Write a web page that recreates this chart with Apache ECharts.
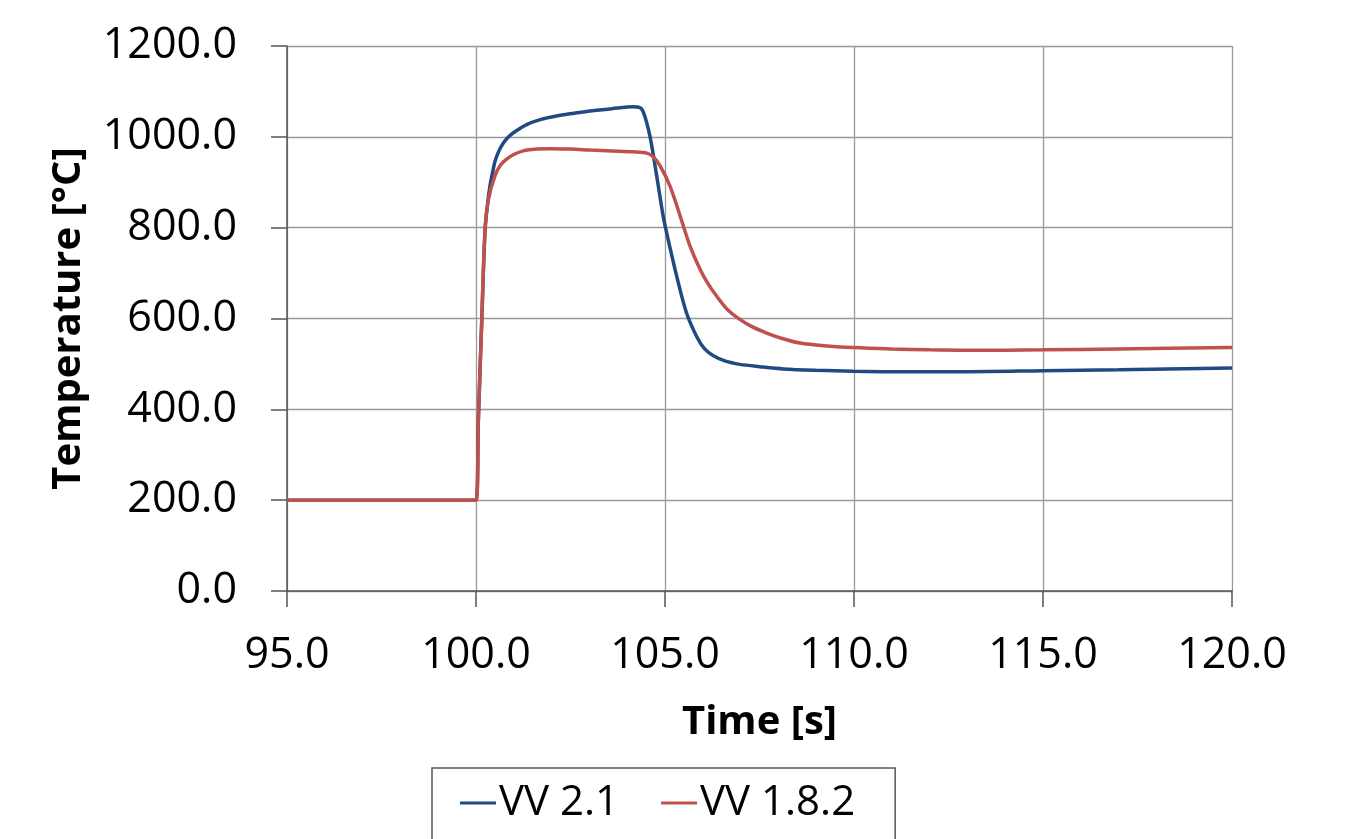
<!DOCTYPE html>
<html>
<head>
<meta charset="utf-8">
<script src="https://cdn.jsdelivr.net/npm/echarts@6/dist/echarts.min.js"></script>
<style>
  html, body { margin: 0; padding: 0; background: #fff; }
  #chart { width: 1347px; height: 839px; }
</style>
</head>
<body>
<div id="chart"></div>
<script>
// Data
const timeV21 = [95, 100.0, 100.06, 100.15, 100.24, 100.31, 100.37, 100.44, 100.5, 100.6, 100.72, 100.85, 100.99, 101.34, 101.7, 102.13, 102.6,
  103.02, 103.6, 104.16, 104.32, 104.43, 104.6, 104.78, 104.95, 105.04, 105.31, 105.57, 105.84, 106.05, 106.28,
  106.6, 106.98, 107.5, 108.13, 109.0, 109.98, 111.0, 112.0, 113.0, 115.0, 117.0, 120.0];
const tempV21 = [200, 200, 370, 590, 796, 855, 892, 922, 945, 968, 986, 999, 1009, 1027, 1038, 1046, 1052,
  1057, 1062, 1066, 1065, 1054, 1002, 914, 826, 790, 693, 612, 560, 533, 518,
  506, 499, 494, 489, 486, 484, 483, 483, 483, 485, 487, 491];

const timeV182 = [95, 100.0, 100.06, 100.15, 100.24, 100.33, 100.5, 100.65, 100.81, 101.0, 101.25, 101.6, 101.96,
  102.5, 103.02, 103.6, 104.16, 104.52, 104.7, 104.87, 105.13, 105.4, 105.66, 105.93, 106.15, 106.37, 106.65,
  106.98, 107.3, 107.69, 108.1, 108.57, 109.2, 109.98, 111.0, 112.0, 113.0, 115.0, 117.0, 120.0];
const tempV182 = [200, 200, 370, 590, 796, 862, 914, 938, 951, 961, 969, 973, 974,
  973, 971, 969, 967, 964, 955, 936, 892, 826, 760, 708, 675, 649, 620,
  598, 582, 568, 556, 546, 540, 536, 533, 531, 530, 531, 533, 536];

const seriesNames = ['VV 2.1', 'VV 1.8.2'];
const xTicks = [95, 100, 105, 110, 115, 120];
const yTicks = [0, 200, 400, 600, 800, 1000, 1200];

// Chart
const chart = echarts.init(document.getElementById('chart'));

const fontFamily = 'Open Sans';

const options = {
  animation: false,
  grid: { left: 287, right: 115, top: 46, bottom: 248, containLabel: false },
  xAxis: {
    type: 'value',
    min: xTicks[0],
    max: xTicks[xTicks.length - 1],
    interval: 5,
    name: 'Time [s]',
    nameLocation: 'middle',
    nameGap: 112,
    nameTextStyle: { color: '#000', fontFamily: fontFamily, fontWeight: 'bold', fontSize: 40 },
    axisLine: { lineStyle: { color: '#555', width: 1.5 } },
    axisTick: { show: true, length: 16, inside: false, lineStyle: { color: '#555', width: 1.5 } },
    axisLabel: {
      color: '#000', fontFamily: fontFamily, fontSize: 43, margin: 43,
      formatter: v => v.toFixed(1)
    },
    splitLine: { show: true, lineStyle: { color: '#999', width: 1.3 } }
  },
  yAxis: {
    type: 'value',
    min: yTicks[0],
    max: yTicks[yTicks.length - 1],
    interval: 200,
    name: 'Temperature [°C]',
    nameLocation: 'middle',
    nameGap: 198,
    nameRotate: 90,
    nameTextStyle: { color: '#000', fontFamily: fontFamily, fontWeight: 'bold', fontSize: 40 },
    axisLine: { show: true, lineStyle: { color: '#555', width: 1.5 } },
    axisTick: { show: true, length: 16, inside: false, lineStyle: { color: '#555', width: 1.5 } },
    axisLabel: {
      color: '#000', fontFamily: fontFamily, fontSize: 43, margin: 50,
      formatter: v => v.toFixed(1)
    },
    splitLine: { show: true, lineStyle: { color: '#999', width: 1.3 } }
  },
  legend: {
    data: seriesNames,
    top: 768,
    left: 432,
    orient: 'horizontal',
    itemWidth: 36,
    itemHeight: 3,
    itemGap: 42,
    icon: 'rect',
    padding: [14, 40, 40, 28],
    borderColor: '#555',
    borderWidth: 1.5,
    textStyle: { color: '#000', fontFamily: fontFamily, fontSize: 42, padding: [0, 0, 0, -2] }
  },
  series: [
    {
      name: seriesNames[0],
      type: 'line',
      data: timeV21.map((t, i) => [t, tempV21[i]]),
      showSymbol: false,
      smooth: 0.3,
      lineStyle: { color: '#1f4a82', width: 3.5 },
      itemStyle: { color: '#1f4a82' }
    },
    {
      name: seriesNames[1],
      type: 'line',
      data: timeV182.map((t, i) => [t, tempV182[i]]),
      showSymbol: false,
      smooth: 0.3,
      lineStyle: { color: '#c0504d', width: 3.5 },
      itemStyle: { color: '#c0504d' }
    }
  ]
};

chart.setOption(options);
</script>
</body>
</html>
